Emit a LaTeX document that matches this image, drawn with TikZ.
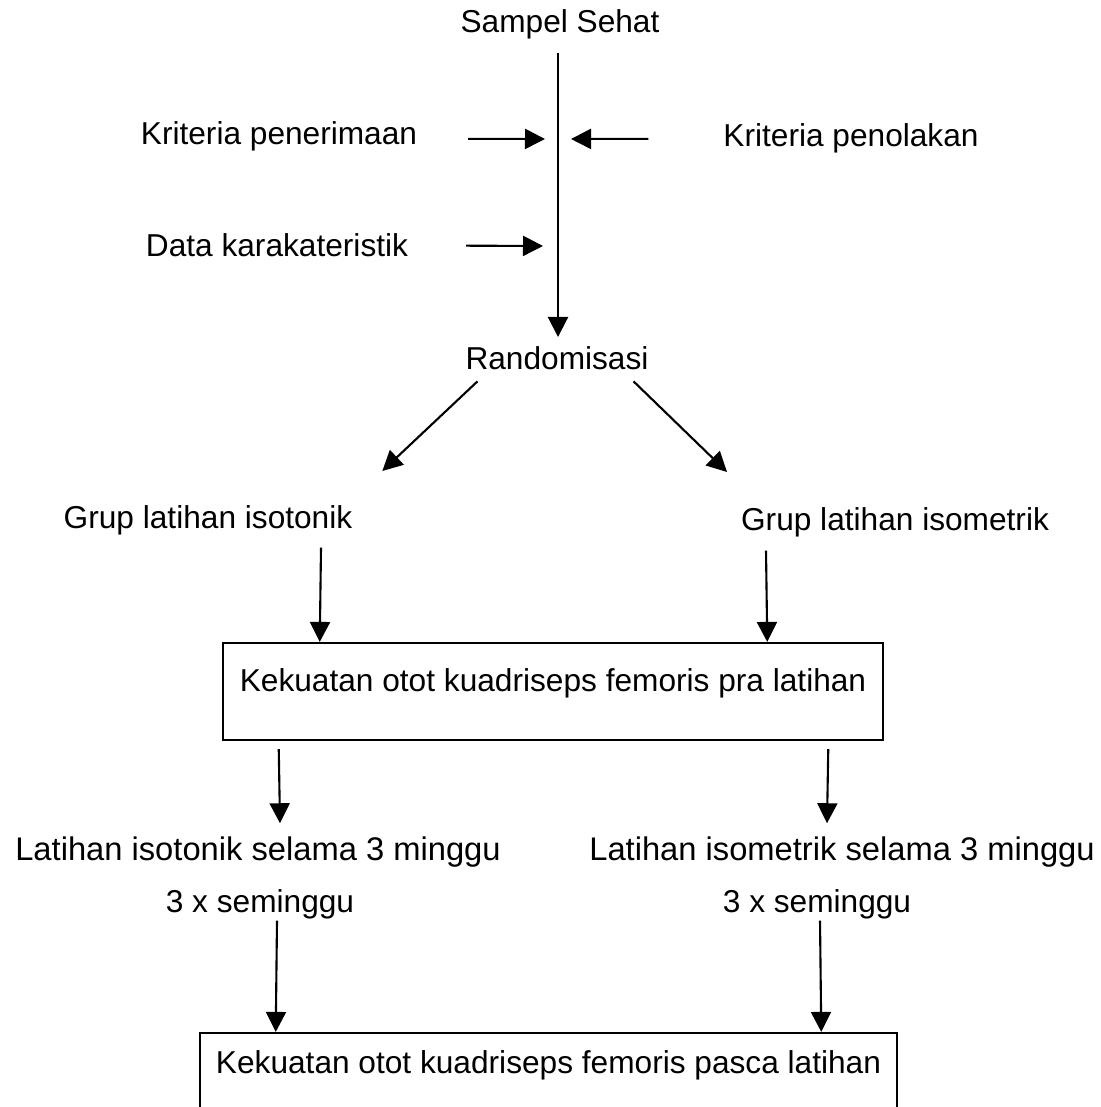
\documentclass[tikz,border=0pt]{standalone}
\usepackage{fontspec}
\setmainfont{Liberation Sans}
\usetikzlibrary{arrows.meta}

\begin{document}
\begin{tikzpicture}[x=0.01cm,y=-0.01cm,>={Triangle[length=2mm,width=2mm]},line width=0.6pt,
  lbl/.style={inner sep=0pt,anchor=base,font=\fontsize{9}{11}\selectfont},
  kotak/.style={draw,inner sep=0pt,font=\fontsize{9}{11}\selectfont,text height=1.6ex,text depth=1.6ex}]
\useasboundingbox (0,0) rectangle (1101,1107);
\clip (0,0) rectangle (1101,1107);
\node[lbl] (sampel) at (560,33) {Sampel Sehat};
\node[lbl] (terima) at (279,145) {Kriteria penerimaan};
\node[lbl] (tolak) at (851,147) {Kriteria penolakan};
\node[lbl] (data) at (277,257) {Data karakateristik};
\node[lbl] (acak) at (557,370) {Randomisasi};
\node[lbl] (gtonik) at (208,528) {Grup latihan isotonik};
\node[lbl] (gmetrik) at (895,531) {Grup latihan isometrik};
\node[kotak,minimum width=6.6cm,minimum height=0.97cm] (pra) at (553,691.5) {Kekuatan otot kuadriseps femoris pra latihan};
\node[lbl,font=\fontsize{9.3}{11}\selectfont] (ltonik) at (258,860) {Latihan isotonik selama 3 minggu};
\node[lbl,font=\fontsize{9.3}{11}\selectfont] (lmetrik) at (842,860) {Latihan isometrik selama 3 minggu};
\node[lbl] (stonik) at (260,912) {3 x seminggu};
\node[lbl] (smetrik) at (817,912) {3 x seminggu};
\node[kotak,minimum width=6.97cm,minimum height=0.8cm] (pasca) at (548.5,1073) {Kekuatan otot kuadriseps femoris pasca latihan};
\coordinate (pin) at (545,139);
\coordinate (pout) at (571,139);
\coordinate (din) at (543,246);
\draw[->] ([shift={(-2,12)}]sampel.south) -- ([shift={(1,-9)}]acak.north);
\draw[->] ([shift={(50,2)}]terima.east) -- (pin);
\draw[->] ([shift={(-74,0)}]tolak.west) -- (pout);
\draw[->] ([shift={(57,0)}]data.east) -- (din);
\draw[->] ([shift={(13,10)}]acak.south west) -- ([shift={(29,-33)}]gtonik.north east);
\draw[->] ([shift={(-16,10)}]acak.south east) -- ([shift={(-13,-35)}]gmetrik.north west);
\draw[->] ([shift={(113,12)}]gtonik.south) -- ([shift={(98,0)}]pra.north west);
\draw[->] ([shift={(-129,12)}]gmetrik.south) -- ([shift={(-117,0)}]pra.north east);
\draw[->] ([shift={(57,8)}]pra.south west) -- ([shift={(22,-12)}]ltonik.north);
\draw[->] ([shift={(-56,8)}]pra.south east) -- ([shift={(-15,-12)}]lmetrik.north);
\draw[->] ([shift={(17,1)}]stonik.south) -- ([shift={(77,0)}]pasca.north west);
\draw[->] ([shift={(3,1)}]smetrik.south) -- ([shift={(-77,0)}]pasca.north east);
\end{tikzpicture}
\end{document}
